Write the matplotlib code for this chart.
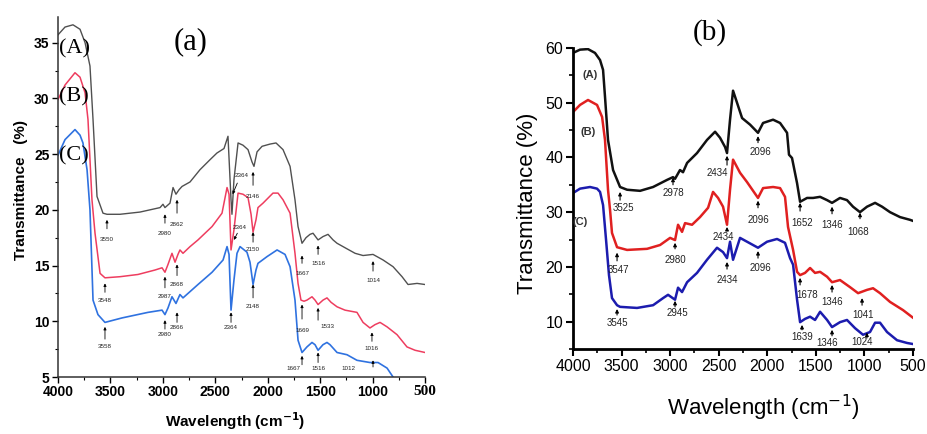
import numpy as np
import matplotlib
matplotlib.use('Agg')
from matplotlib import pyplot as plt
from matplotlib.ticker import MultipleLocator

plt.rcParams['font.family'] = ['Liberation Sans', 'DejaVu Sans']

# ---------------- panel (a) data ----------------
wa_A = [4000, 3933, 3857, 3790, 3742, 3695, 3666, 3628, 3571, 3533, 3409, 3218, 3027, 2999, 2980,
        2932, 2903, 2875, 2846, 2817, 2741, 2646, 2550, 2484, 2417, 2379, 2350, 2341, 2322, 2283,
        2236, 2188, 2150, 2131, 2102, 2054, 1978, 1921, 1854, 1787, 1740, 1711, 1673, 1635, 1597,
        1568, 1520, 1473, 1425, 1377, 1339, 1263, 1167, 1091, 996, 900, 805, 719, 662, 576, 500]
Ta_A = [35.7, 36.4, 36.6, 36.2, 35.0, 32.9, 28.1, 21.2, 19.7, 19.6, 19.6, 19.8, 20.2, 20.5, 20.2,
        20.6, 22.0, 21.4, 21.8, 22.1, 22.5, 23.6, 24.5, 25.1, 25.5, 26.6, 20.9, 19.6, 22.7, 26.0,
        25.8, 25.4, 24.3, 23.9, 25.2, 25.7, 25.9, 26.0, 25.4, 23.9, 20.9, 18.5, 17.0, 17.5, 17.8,
        17.9, 17.3, 17.6, 17.8, 17.3, 17.0, 16.6, 16.1, 15.9, 16.0, 15.5, 14.9, 14.0, 13.3, 13.4, 13.3]

wa_B = [4000, 3933, 3838, 3790, 3742, 3714, 3676, 3647, 3599, 3552, 3409, 3237, 3075, 3008, 2980,
        2951, 2913, 2884, 2856, 2837, 2808, 2741, 2665, 2531, 2436, 2388, 2369, 2350, 2322, 2283,
        2236, 2188, 2159, 2140, 2112, 2093, 2045, 1950, 1902, 1854, 1787, 1740, 1711, 1683, 1654,
        1626, 1578, 1549, 1520, 1473, 1435, 1396, 1339, 1263, 1149, 1091, 1025, 977, 929, 862,
        767, 672, 595, 500]
Ta_B = [29.9, 31.2, 32.3, 31.9, 30.5, 28.1, 20.9, 17.9, 14.3, 13.9, 14.0, 14.2, 14.6, 14.8, 14.4,
        15.1, 16.1, 15.3, 16.0, 16.4, 16.1, 16.7, 17.3, 18.5, 19.7, 22.0, 21.4, 16.4, 18.2, 21.5,
        21.4, 21.1, 19.6, 18.0, 19.1, 20.2, 20.6, 21.5, 21.5, 20.9, 19.7, 16.1, 13.4, 11.9, 11.8,
        11.9, 12.2, 11.9, 11.5, 11.9, 12.1, 11.7, 11.3, 11.0, 10.8, 9.9, 9.4, 9.7, 9.9, 9.5,
        8.8, 7.7, 7.4, 7.2]

wa_C = [4000, 3933, 3838, 3790, 3762, 3723, 3695, 3666, 3619, 3552, 3390, 3142, 3008, 2980, 2951,
        2913, 2875, 2837, 2808, 2665, 2531, 2426, 2388, 2369, 2350, 2322, 2293, 2264, 2198, 2169,
        2140, 2112, 2093, 2007, 1911, 1835, 1787, 1740, 1711, 1673, 1626, 1578, 1549, 1520, 1473,
        1435, 1406, 1339, 1244, 1149, 1025, 948, 862, 805, 757]
Ta_C = [24.9, 26.3, 27.2, 26.7, 26.0, 23.6, 20.0, 11.9, 10.6, 9.9, 10.3, 10.8, 11.0, 10.6, 11.2,
        12.2, 11.6, 12.4, 12.1, 13.3, 14.4, 15.5, 16.7, 16.0, 11.0, 13.7, 16.1, 16.7, 16.2, 15.3,
        13.3, 14.6, 15.2, 15.8, 16.4, 16.0, 14.9, 11.9, 8.3, 7.2, 7.7, 8.1, 7.9, 7.4, 7.9,
        8.1, 7.9, 7.2, 7.0, 6.5, 6.3, 6.3, 5.8, 5.0, 4.3]

# label, text position (w, T), arrow tail (w, T), arrow tip (w, T)
notes_a = [
    ('3550', 3533, 17.3, 3533, 18.3, 3533, 19.1),
    ('2980', 2980, 17.9, 2980, 18.8, 2980, 19.6),
    ('2862', 2865, 18.7, 2865, 19.7, 2865, 20.9),
    ('2364', 2245, 23.1, 2290, 22.4, 2335, 21.4),
    ('2146', 2140, 21.2, 2140, 22.2, 2140, 23.4),
    ('1667', 1673, 14.3, 1673, 15.2, 1673, 15.9),
    ('1516', 1520, 15.2, 1520, 16.0, 1520, 16.8),
    ('1014', 996, 13.7, 996, 14.5, 996, 15.4),
    ('3548', 3552, 11.9, 3552, 12.6, 3552, 13.4),
    ('2987', 2980, 12.2, 2980, 13.0, 2980, 14.0),
    ('2868', 2865, 13.3, 2865, 14.1, 2865, 15.1),
    ('2364', 2264, 18.4, 2290, 17.9, 2322, 17.3),
    ('2150', 2140, 16.4, 2140, 17.1, 2140, 18.0),
    ('1669', 1673, 9.2, 1673, 10.2, 1673, 11.5),
    ('1533', 1435, 9.5, 1520, 10.1, 1520, 11.2),
    ('1016', 1006, 7.6, 1006, 8.2, 1006, 9.0),
    ('3558', 3552, 7.7, 3552, 8.4, 3552, 9.5),
    ('2980', 2980, 8.8, 2980, 9.3, 2980, 10.1),
    ('2866', 2865, 9.4, 2865, 9.9, 2865, 10.8),
    ('2364', 2350, 9.4, 2350, 9.9, 2350, 10.8),
    ('2148', 2140, 11.3, 2140, 12.1, 2140, 13.3),
    ('1667', 1759, 5.8, 1673, 6.1, 1673, 6.9),
    ('1516', 1520, 5.8, 1520, 6.3, 1520, 7.2),
    ('1012', 1234, 5.8, 996, 5.9, 996, 6.5),
]

# ---------------- panel (b) data ----------------
wb_A = [4000, 3928, 3846, 3774, 3722, 3691, 3671, 3640, 3588, 3516, 3444, 3310, 3176, 3032, 2971,
        2950, 2899, 2868, 2826, 2724, 2621, 2538, 2487, 2435, 2415, 2384, 2353, 2312, 2260, 2178,
        2096, 2044, 1941, 1869, 1797, 1777, 1746, 1694, 1663, 1591, 1529, 1457, 1385, 1334, 1252,
        1180, 1118, 1046, 974, 891, 819, 737, 634, 531, 500]
Tb_A = [59.1, 59.7, 59.8, 59.1, 57.8, 56.0, 51.1, 43.2, 37.7, 34.6, 34.1, 33.9, 34.6, 35.9, 36.4,
        36.1, 37.7, 37.3, 39.0, 40.8, 43.2, 44.7, 43.6, 41.9, 40.8, 46.9, 52.2, 50.0, 47.2, 46.0,
        44.5, 46.3, 46.9, 46.3, 44.5, 40.5, 39.9, 35.3, 31.9, 32.6, 32.6, 32.8, 32.2, 31.7, 32.6,
        32.2, 31.0, 30.0, 31.0, 31.7, 31.0, 30.0, 29.1, 28.6, 28.4]

wb_B = [4000, 3928, 3846, 3753, 3701, 3671, 3640, 3619, 3599, 3547, 3444, 3238, 3104, 3001, 2950,
        2919, 2878, 2847, 2775, 2693, 2610, 2559, 2507, 2456, 2415, 2384, 2353, 2281, 2209, 2096,
        2044, 1941, 1869, 1818, 1787, 1735, 1694, 1663, 1612, 1560, 1509, 1457, 1385, 1334, 1252,
        1149, 1066, 974, 912, 840, 737, 603, 500]
Tb_B = [48.3, 49.6, 50.5, 49.6, 47.4, 43.2, 34.1, 30.4, 26.2, 23.6, 23.1, 23.3, 24.0, 25.3, 24.9,
        27.7, 26.4, 28.0, 27.7, 29.1, 30.8, 33.7, 32.6, 31.0, 27.7, 34.1, 39.6, 37.2, 35.5, 32.6,
        34.4, 34.6, 34.4, 32.8, 27.3, 23.1, 19.1, 18.5, 18.9, 19.8, 18.9, 19.1, 18.2, 17.2, 17.6,
        16.3, 15.2, 15.8, 16.1, 15.2, 13.6, 12.1, 10.7]

wb_C = [4000, 3928, 3825, 3753, 3722, 3691, 3660, 3630, 3599, 3547, 3516, 3341, 3176, 3073, 3022,
        2950, 2919, 2878, 2826, 2724, 2621, 2518, 2456, 2415, 2384, 2353, 2281, 2209, 2096, 2003,
        1900, 1818, 1766, 1735, 1694, 1663, 1612, 1560, 1509, 1457, 1385, 1334, 1252, 1180, 1097,
        1015, 943, 891, 840, 768, 665, 562, 500]
Tb_C = [33.5, 34.3, 34.6, 34.3, 33.7, 31.3, 24.9, 18.5, 14.3, 13.0, 12.7, 12.5, 13.0, 14.3, 14.9,
        14.0, 16.2, 15.4, 17.2, 18.9, 21.3, 23.5, 22.7, 21.6, 24.6, 21.3, 25.3, 24.6, 23.5, 24.6,
        25.1, 24.4, 21.6, 20.4, 14.0, 9.9, 10.5, 10.9, 10.3, 11.8, 10.3, 9.0, 9.9, 10.3, 8.8,
        7.6, 8.1, 9.8, 9.8, 8.1, 6.6, 6.1, 5.9]

notes_b = [
    ('3525', 3485, 30.8, 3516, 32.2, 3516, 33.7),
    ('2978', 2971, 33.5, 2971, 35.0, 2971, 36.3),
    ('2434', 2518, 37.2, 2415, 38.6, 2415, 40.3),
    ('2096', 2075, 41.0, 2096, 42.7, 2096, 43.9),
    ('1652', 1643, 28.0, 1663, 30.2, 1663, 31.7),
    ('1346', 1334, 27.7, 1334, 29.7, 1334, 31.0),
    ('1068', 1066, 26.4, 1046, 28.8, 1046, 29.9),
    ('3547', 3537, 19.4, 3547, 21.1, 3547, 22.6),
    ('2980', 2950, 21.3, 2950, 23.3, 2950, 24.4),
    ('2434', 2456, 25.5, 2415, 26.6, 2415, 27.3),
    ('2096', 2096, 28.6, 2096, 30.8, 2096, 32.1),
    ('1678', 1591, 14.9, 1663, 16.7, 1663, 18.0),
    ('1346', 1334, 13.6, 1334, 15.4, 1334, 16.7),
    ('1041', 1015, 11.2, 1025, 13.0, 1025, 14.3),
    ('3545', 3547, 9.8, 3547, 11.2, 3547, 12.3),
    ('2945', 2929, 11.6, 2950, 12.7, 2950, 13.8),
    ('2434', 2415, 17.6, 2415, 19.6, 2415, 20.9),
    ('2096', 2075, 19.8, 2096, 21.6, 2096, 22.9),
    ('1639', 1643, 7.2, 1643, 8.5, 1643, 9.4),
    ('1346', 1385, 6.1, 1334, 7.4, 1334, 8.5),
    ('1024', 1025, 6.3, 975, 7.0, 975, 8.0),
]

x_ticks = [4000, 3500, 3000, 2500, 2000, 1500, 1000, 500]


def draw_notes(ax, notes, fs, color, lw, ms):
    for lab, tx, ty, ax0, ay0, ax1, ay1 in notes:
        ax.text(tx, ty, lab, fontsize=fs, color=color, ha='center', va='center')
        ax.annotate('', xy=(ax1, ay1), xytext=(ax0, ay0),
                    arrowprops=dict(arrowstyle='-|>', lw=lw, color='k',
                                    mutation_scale=ms, shrinkA=0, shrinkB=0))


fig = plt.figure(figsize=(9.28, 4.34), dpi=100)

# ---------------- panel (a) ----------------
ax = fig.add_axes([0.0625, 0.1313, 0.3955, 0.8295])
ax.plot(wa_A, Ta_A, color='#505050', lw=1.0)
ax.plot(wa_B, Ta_B, color='#ee3d5f', lw=1.1)
ax.plot(wa_C, Ta_C, color='#2f72e0', lw=1.2)
ax.set_xlim(4000, 500)
ax.set_ylim(5, 37.3)
for s in ['top', 'right']:
    ax.spines[s].set_visible(False)
for s in ['left', 'bottom']:
    ax.spines[s].set_linewidth(1.1)
    ax.spines[s].set_color('#333333')
ax.set_xticks(x_ticks)
ax.set_xticklabels([str(t) for t in x_ticks])
ax.xaxis.set_minor_locator(MultipleLocator(250))
ax.yaxis.set_major_locator(MultipleLocator(5))
ax.yaxis.set_minor_locator(MultipleLocator(2.5))
ax.tick_params(which='major', direction='out', length=4, width=1, labelsize=10, pad=2)
ax.tick_params(which='minor', direction='out', length=2, width=0.8)
for t in ax.get_xticklabels() + ax.get_yticklabels():
    t.set_fontweight('bold')
last = ax.get_xticklabels()[-1]
last.set_fontfamily('Liberation Serif')
last.set_fontsize(11)
ax.set_ylabel('Transmittance   (%)', fontsize=11, fontweight='bold')
ax.yaxis.set_label_coords(-0.082, 0.52)
ax.set_xlabel('Wavelength (cm$^{\\mathbf{-1}}$)', fontsize=11, fontweight='bold')
ax.xaxis.set_label_coords(0.482, -0.093)
for lab, ty in [('(A)', 34.4), ('(B)', 30.1), ('(C)', 24.8)]:
    ax.text(3847, ty, lab, fontsize=16, family='Liberation Serif', ha='center', va='center')
draw_notes(ax, notes_a, 4.5, '#222222', 0.6, 4)
fig.text(0.205, 0.903, '(a)', fontsize=22, family='Liberation Serif', ha='center', va='center')

# ---------------- panel (b) ----------------
bx = fig.add_axes([0.6175, 0.1959, 0.3664, 0.6935])
bx.plot(wb_A, Tb_A, color='#111111', lw=1.8)
bx.plot(wb_B, Tb_B, color='#e02020', lw=1.8)
bx.plot(wb_C, Tb_C, color='#1c1cae', lw=1.8)
bx.set_xlim(4000, 500)
bx.set_ylim(5, 60)
for s in ['top', 'right']:
    bx.spines[s].set_visible(False)
for s in ['left', 'bottom']:
    bx.spines[s].set_linewidth(2)
bx.set_xticks(x_ticks)
bx.xaxis.set_minor_locator(MultipleLocator(250))
bx.set_yticks([10, 20, 30, 40, 50, 60])
bx.yaxis.set_minor_locator(MultipleLocator(5))
bx.tick_params(which='major', direction='out', length=5, width=1.5, labelsize=11.5, pad=2)
bx.tick_params(which='minor', direction='out', length=3, width=1.2)
bx.set_ylabel('Transmittance (%)', fontsize=16)
bx.yaxis.set_label_coords(-0.103, 0.485)
bx.set_xlabel('Wavelength (cm$^{-1}$)', fontsize=16)
bx.xaxis.set_label_coords(0.56, -0.145)
for lab, tx, ty in [('(A)', 3825, 55.1), ('(B)', 3846, 44.7), ('(C)', 3928, 28.2)]:
    bx.text(tx, ty, lab, fontsize=8, fontweight='bold', color='#333333', ha='center', va='center')
draw_notes(bx, notes_b, 7, '#222222', 0.8, 5)
fig.text(0.765, 0.924, '(b)', fontsize=21, family='Liberation Serif', ha='center', va='center')

fig.savefig('out.png', dpi=100)
